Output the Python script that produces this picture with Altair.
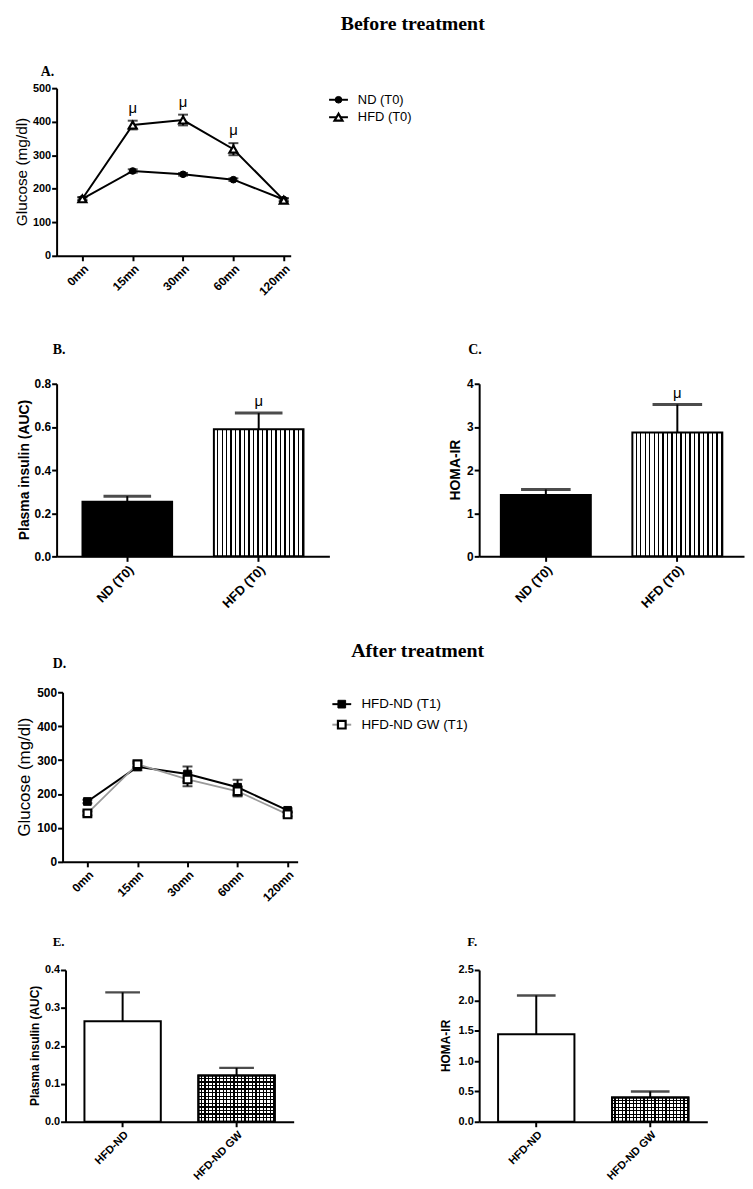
import json
import altair as alt
import pandas as pd

FONT = "Liberation Sans"
SERIF = "Liberation Serif"
DEBUG = False

# ---------------- data ----------------
times = ["0mn", "15mn", "30mn", "60mn", "120mn"]

a_nd = [170, 253, 243, 227, 168]
a_nd_err = [4, 5, 4, 4, 4]
a_hfd = [170, 390, 405, 318, 166]
a_hfd_err = [5, 13, 16, 18, 5]
a_sig = ["", "μ", "μ", "μ", ""]

d_hfdnd = [178, 280, 259, 220, 152]
d_hfdnd_err = [5, 10, 22, 22, 6]
d_gw = [143, 288, 243, 208, 140]
d_gw_err = [6, 8, 20, 15, 6]

bc_groups = ["ND (T0)", "HFD (T0)"]
b_insulin = [0.253, 0.589]
b_insulin_err = [0.026, 0.075]
c_homa = [1.42, 2.87]
c_homa_err = [0.13, 0.65]
bc_sig = ["", "μ"]

ef_groups = ["HFD-ND", "HFD-ND GW"]
e_insulin = [0.265, 0.122]
e_insulin_err = [0.076, 0.020]
f_homa = [1.44, 0.40]
f_homa_err = [0.64, 0.10]
ef_sig = ["", ""]


# ---------------- helpers ----------------
def one_row():
    return alt.Chart(pd.DataFrame({"s": [0]}))


def bound_rect(x1, x2, y1, y2):
    if DEBUG:
        r = one_row().mark_rect(fill="transparent", stroke="red", strokeWidth=0.5)
    else:
        r = one_row().mark_rect(opacity=0)
    return r.encode(x=alt.value(x1), x2=alt.value(x2), y=alt.value(y1), y2=alt.value(y2))


def text_layer(txt, x, y, size, align, font, weight, base):
    return one_row().mark_text(
        text=txt, font=font, fontWeight=weight, fontSize=size, align=align,
        baseline=base, color="black").encode(x=alt.value(x), y=alt.value(y))


def cell(layers, width, height, rect, texts, ytitle=None):
    x1, x2, y1, y2 = rect
    extra = [bound_rect(x1, x2, y1, y2)]
    for t in texts:
        extra.append(text_layer(*t))
    if ytitle is not None:
        txt, x, size, weight = ytitle
        extra.append(one_row().mark_text(
            text=txt, font=FONT, fontWeight=weight, fontSize=size, align="center",
            baseline="middle", angle=270, color="black").encode(
            x=alt.value(x), y=alt.value(height / 2)))
    return alt.layer(*extra, *layers).properties(width=width, height=height)


def spacer(y1, y2, height):
    return alt.layer(bound_rect(0, 1, y1, y2)).properties(width=1, height=height)


def stripes(n, direction, on="black", off="white", ratio=0.7):
    stops = []
    for k in range(n):
        a = round(k / n, 5)
        m = round((k + ratio) / n, 5)
        b = round((k + 1) / n, 5)
        stops += [alt.GradientStop(offset=a, color=off),
                  alt.GradientStop(offset=m, color=off),
                  alt.GradientStop(offset=m, color=on),
                  alt.GradientStop(offset=b, color=on)]
    if direction == "v":
        return alt.LinearGradient(gradient="linear", stops=stops, x1=0, x2=1, y1=0, y2=0)
    return alt.LinearGradient(gradient="linear", stops=stops, x1=0, x2=0, y1=0, y2=1)


def line_layers(series, xdom, xfs, yls):
    rows = []
    for s in series:
        for i, t in enumerate(times):
            v = s["vals"][i]
            e = s["errs"][i]
            rows.append({"series": s["name"], "idx": i, "v": v, "lo": v - e,
                         "hi": v + e, "sig": s["sig"][i]})
    df = pd.DataFrame(rows)
    xenc = alt.X("idx:Q", scale=alt.Scale(domain=xdom, nice=False, zero=False),
                 axis=alt.Axis(values=list(range(len(times))),
                               labelExpr=f"{json.dumps(times)}[datum.value]",
                               labelAngle=-45, title=None, labelFontSize=xfs,
                               labelPadding=2))
    yax = alt.Axis(values=[0, 100, 200, 300, 400, 500], title=None,
                   labelFontSize=yls, labelPadding=1)
    ysc = alt.Scale(domain=[0, 500], nice=False)
    base = alt.Chart(df)
    layers = []
    for s in series:
        sub = base.transform_filter(alt.datum.series == s["name"])
        layers.append(sub.mark_line(color=s["line"], strokeWidth=s["lw"]).encode(
            x=xenc, y=alt.Y("v:Q", scale=ysc, axis=yax)))
    for s in series:
        sub = base.transform_filter(alt.datum.series == s["name"])
        layers.append(sub.mark_rule(color="black", strokeWidth=2).encode(
            x=xenc, y=alt.Y("lo:Q", scale=ysc, axis=yax), y2="hi:Q"))
        for f in ["lo", "hi"]:
            layers.append(sub.mark_tick(orient="horizontal", size=10, thickness=2,
                                        color="black").encode(
                x=xenc, y=alt.Y(f"{f}:Q", scale=ysc, axis=yax)))
    for s in series:
        sub = base.transform_filter(alt.datum.series == s["name"])
        layers.append(sub.mark_point(shape=s["shape"], filled=True, fill=s["fill"],
                                     stroke="black", strokeWidth=s["sw"], size=s["size"],
                                     opacity=1).encode(
            x=xenc, y=alt.Y("v:Q", scale=ysc, axis=yax)))
    sig = base.transform_filter(alt.datum.sig != "")
    layers.append(sig.mark_text(font=FONT, fontSize=15, baseline="middle",
                                dy=-13, color="black").encode(
        x=xenc, y=alt.Y("hi:Q", scale=ysc, axis=yax), text="sig:N"))
    return layers


def bar_layers(groups, vals, errs, sig, ydom, yvals, yfmt,
               fills, pi, po, capw, capt, xfs, yls, sigdy):
    df = pd.DataFrame({"g": groups, "v": vals,
                       "hi": [v + e for v, e in zip(vals, errs)], "sig": sig})
    xenc = alt.X("g:N", sort=groups,
                 scale=alt.Scale(paddingInner=pi, paddingOuter=po),
                 axis=alt.Axis(title=None, labelAngle=-45, labelFontSize=xfs,
                               labelPadding=2))
    yax = alt.Axis(values=yvals, format=yfmt, title=None,
                   labelFontSize=yls, labelPadding=1)
    ysc = alt.Scale(domain=ydom, nice=False)
    base = alt.Chart(df)
    layers = []
    for i, g in enumerate(groups):
        for f in fills[i]:
            layers.append(base.transform_filter(alt.datum.g == g).mark_bar(
                fill=f, stroke="black", strokeWidth=2).encode(
                x=xenc, y=alt.Y("v:Q", scale=ysc, axis=yax)))
    layers.append(base.mark_rule(color="black", strokeWidth=2).encode(
        x=xenc, y=alt.Y("v:Q", scale=ysc, axis=yax), y2="hi:Q"))
    layers.append(base.mark_tick(orient="horizontal", size=capw, thickness=capt,
                                 color="black").encode(
        x=xenc, y=alt.Y("hi:Q", scale=ysc, axis=yax)))
    if any(sig):
        layers.append(base.transform_filter(alt.datum.sig != "").mark_text(
            font=FONT, fontSize=15, baseline="middle", dy=sigdy, color="black").encode(
            x=xenc, y=alt.Y("hi:Q", scale=ysc, axis=yax), text="sig:N"))
    return layers


def legend_layers(entries, line_x, marker_x, text_x, ys, fs):
    layers = []
    for e, y in zip(entries, ys):
        layers.append(one_row().mark_rule(color=e["line"], strokeWidth=2).encode(
            x=alt.value(line_x[0]), x2=alt.value(line_x[1]), y=alt.value(y)))
        layers.append(one_row().mark_point(shape=e["shape"], filled=True, fill=e["fill"],
                                           stroke="black", strokeWidth=e["sw"],
                                           size=e["size"], opacity=1).encode(
            x=alt.value(marker_x), y=alt.value(y)))
        layers.append(one_row().mark_text(text=e["name"], align="left", baseline="middle",
                                          font=FONT, fontSize=fs, color="black").encode(
            x=alt.value(text_x), y=alt.value(y)))
    return layers


# ---------------- panels ----------------
a_series = [
    {"name": "ND (T0)", "vals": a_nd, "errs": a_nd_err, "sig": [""] * 5, "line": "black",
     "lw": 2, "shape": "circle", "fill": "black", "sw": 1, "size": 45},
    {"name": "HFD (T0)", "vals": a_hfd, "errs": a_hfd_err, "sig": a_sig, "line": "black",
     "lw": 2, "shape": "triangle-up", "fill": "white", "sw": 2.2, "size": 65},
]
d_series = [
    {"name": "HFD-ND (T1)", "vals": d_hfdnd, "errs": d_hfdnd_err, "sig": [""] * 5,
     "line": "black", "lw": 2, "shape": "square", "fill": "black", "sw": 1, "size": 60},
    {"name": "HFD-ND GW (T1)", "vals": d_gw, "errs": d_gw_err, "sig": [""] * 5,
     "line": "#9a9a9a", "lw": 1.8, "shape": "square", "fill": "white", "sw": 2.2,
     "size": 60},
]

H0 = 62                      # title row (its text bounds reach ~6px above the row)
R1 = (-8, 246)               # plot top at page y 84
R2 = (-50, 240)              # plot top at page y 380
R3 = (-69, 216)              # plot top at page y 689
R4 = (-62, 218)              # plot top at page y 967

title_row = alt.layer(
    bound_rect(0, 737, 0, H0),
    text_layer("Before treatment", 407, 14, 20, "center", SERIF, "bold", "alphabetic"),
    text_layer("A.", 32, 60.5, 14, "left", SERIF, "bold", "alphabetic"),
).properties(width=737, height=H0)

panelA = cell(line_layers(a_series, [-0.512, 4.138], 12, 11),
              236, 169, (-45, 246) + R1, [],
              ytitle=("Glucose (mg/dl)", -35, 15.5, "normal"))
legendA = cell(legend_layers(a_series, (26.7, 45.7), 36.2, 55.7, [11.7, 29.3], 13),
               445, 169, (0, 445) + R1, [])

panelB = cell(bar_layers(bc_groups, b_insulin, b_insulin_err, bc_sig,
                         [0, 0.8], [0, 0.2, 0.4, 0.6, 0.8], ".1f",
                         [["black"], [stripes(20, "v")]], 0.318, 0.197, 48, 3,
                         13, 12, -12),
              275, 174, (-45, 346) + R2,
              [("B.", -4, -30, 14, "left", SERIF, "bold", "alphabetic")],
              ytitle=("Plasma insulin (AUC)", -32, 14, "bold"))
panelC = cell(bar_layers(bc_groups, c_homa, c_homa_err, bc_sig,
                         [0, 4], [0, 1, 2, 3, 4], "d",
                         [["black"], [stripes(20, "v")]], 0.316, 0.165, 50, 3,
                         13, 12, -12),
              267, 174, (-78, 267) + R2,
              [("C.", -11, -30, 14, "left", SERIF, "bold", "alphabetic")],
              ytitle=("HOMA-IR", -23, 14, "bold"))

panelD = cell(line_layers(d_series, [-0.496, 4.2], 12, 12),
              237, 171, (-51, 250) + R3,
              [("D.", -10, -24, 14, "left", SERIF, "bold", "alphabetic")],
              ytitle=("Glucose (mg/dl)", -38, 17, "normal"))
legendD = cell(legend_layers(d_series, (20, 39), 29.5, 49.3, [12, 32.7], 13.5),
               435, 171, (0, 435) + R3,
               [("After treatment", 106, -36, 20, "center", SERIF, "bold", "alphabetic")])

checkE = [stripes(21, "v", ratio=0.65),
          stripes(13, "h", off="rgba(0,0,0,0)", ratio=0.65)]
checkF = [stripes(21, "v", ratio=0.65),
          stripes(7, "h", off="rgba(0,0,0,0)", ratio=0.65)]
panelE = cell(bar_layers(ef_groups, e_insulin, e_insulin_err, ef_sig,
                         [0, 0.4], [0, 0.1, 0.2, 0.3, 0.4], ".1f",
                         [["white"], checkE], 0.33, 0.166, 35, 2.5, 11, 11, -12),
              230, 153, (-54, 337) + R4,
              [("E.", -13, -24, 13, "left", SERIF, "bold", "alphabetic")],
              ytitle=("Plasma insulin (AUC)", -31, 12, "bold"))
panelF = cell(bar_layers(ef_groups, f_homa, f_homa_err, ef_sig,
                         [0, 2.5], [0, 0.5, 1.0, 1.5, 2.0, 2.5], ".1f",
                         [["white"], checkF], 0.33, 0.166, 39, 2.5, 11, 11, -12),
              230, 153, (-78, 267) + R4,
              [("F.", -12, -24, 13, "left", SERIF, "bold", "alphabetic")],
              ytitle=("HOMA-IR", -33, 12, "bold"))

rows = [
    title_row,
    alt.hconcat(spacer(*R1, 169), panelA, legendA, spacing=0),
    alt.hconcat(spacer(*R2, 174), panelB, panelC, spacing=0),
    alt.hconcat(spacer(*R3, 171), panelD, legendD, spacing=0),
    alt.hconcat(spacer(*R4, 153), panelE, panelF, spacing=0),
]

chart = alt.vconcat(*rows, spacing=0, padding=0).configure_view(
    stroke="transparent").configure_axis(
    domainColor="black", tickColor="black", labelColor="black", titleColor="black",
    grid=False, labelFont=FONT, titleFont=FONT, labelFontWeight="bold",
    titleFontWeight="bold", domainWidth=2, tickWidth=2, tickSize=5)

chart.save("out.html", embed_options={"renderer": "svg", "actions": False})
